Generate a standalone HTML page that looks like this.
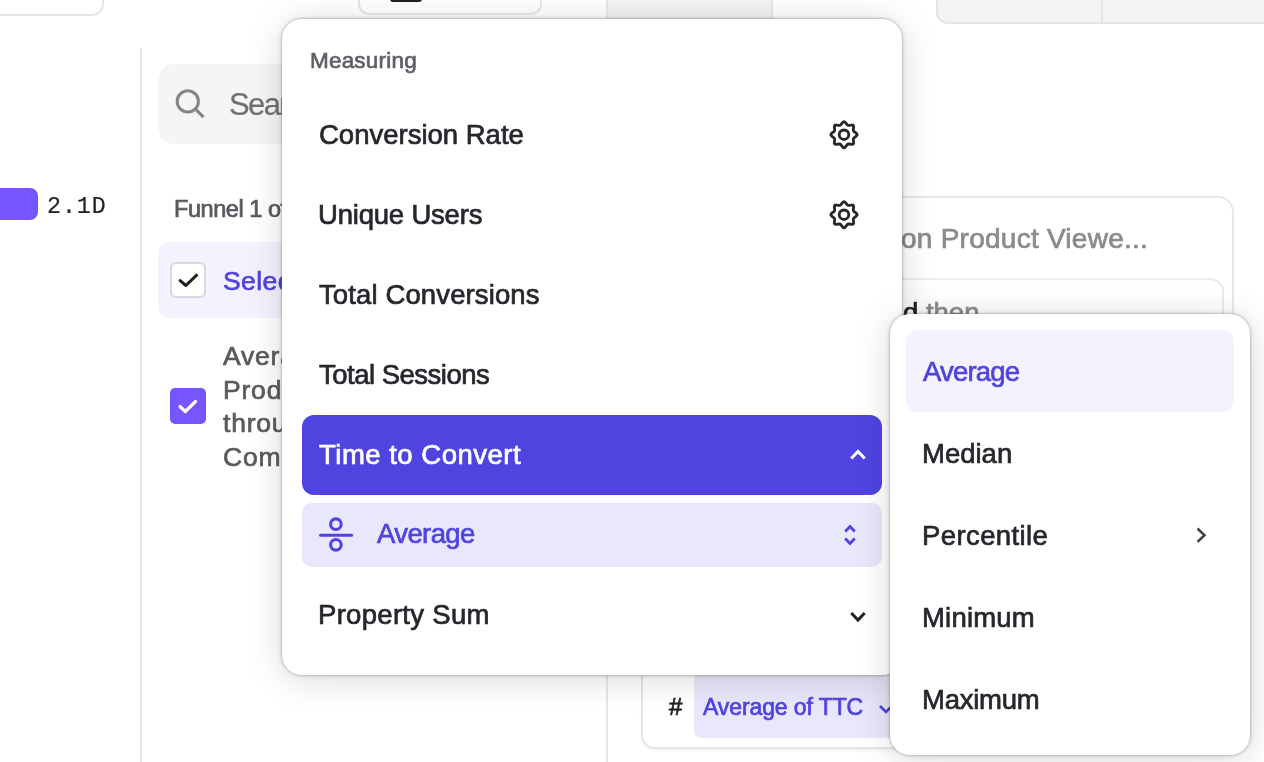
<!DOCTYPE html>
<html><head><meta charset="utf-8"><title>Measuring menu</title>
<style>
html,body{margin:0;padding:0;width:1264px;height:762px;overflow:hidden;background:#fff;}
body{position:relative;font-family:"Liberation Sans",sans-serif;}
.t{position:absolute;white-space:nowrap;-webkit-text-stroke:0.7px currentColor;will-change:transform;}
.b{position:absolute;box-sizing:border-box;}
.menu{position:absolute;background:#fff;border-radius:20px;box-shadow:0 0 0 1px rgba(0,0,0,0.08),0 0 0 2px rgba(0,0,0,0.04),0 0 6px rgba(0,0,0,0.14),0 4px 36px rgba(0,0,0,0.15);}
</style></head><body>
<div class="b" style="left:-20px;top:-40px;width:124px;height:56px;border:2px solid #e6e6e6;border-radius:12px;background:#fff;"></div>
<div class="b" style="left:358px;top:-40px;width:184px;height:55px;border:2px solid #e6e6e6;border-radius:11px;background:#fff;"></div>
<div class="b" style="left:389.5px;top:-10px;width:32.5px;height:11.6px;background:#1f1f24;border-radius:3px;"></div>
<div class="b" style="left:606px;top:-10px;width:167px;height:50px;background:#f4f4f4;border:2px solid #e6e6e6;"></div>
<div class="b" style="left:936px;top:-40px;width:354px;height:64px;background:#f4f4f4;border:2px solid #e6e6e6;border-radius:12px;"></div>
<div class="b" style="left:1101px;top:0px;width:2px;height:23px;background:#e6e6e6;"></div>
<div class="b" style="left:140px;top:48px;width:2px;height:714px;background:#e8e8e8;"></div>
<div class="b" style="left:606px;top:0px;width:2px;height:762px;background:#e8e8e8;"></div>
<div class="b" style="left:-20px;top:188px;width:58px;height:32px;background:#7856ff;border-radius:8px;"></div>
<div class="t" style="left:46.80px;top:196.08px;font-size:23.3px;line-height:23.3px;color:#222;font-weight:400;font-family:'Liberation Mono', monospace;letter-spacing:0.9px;-webkit-text-stroke:0.2px;">2.1D</div>
<div class="b" style="left:158px;top:64px;width:442px;height:80px;background:#f5f5f5;border-radius:16px;"></div>
<svg class="b" style="left:172px;top:86px" width="40" height="40" viewBox="0 0 40 40">
<circle cx="15.8" cy="15.4" r="10.6" fill="none" stroke="#858585" stroke-width="3"/>
<line x1="23.5" y1="23.2" x2="31.5" y2="31.2" stroke="#858585" stroke-width="3.2" stroke-linecap="butt"/></svg>
<div class="t" style="left:229.00px;top:88.66px;font-size:31px;line-height:31px;color:#707070;font-weight:400;font-family:'Liberation Sans', sans-serif;letter-spacing:-1.6px;-webkit-text-stroke:0.2px #707070;">Search</div>
<div class="t" style="left:174.20px;top:197.71px;font-size:23.5px;line-height:23.5px;color:#58585e;font-weight:400;font-family:'Liberation Sans', sans-serif;letter-spacing:-0.45px;">Funnel 1 of 2</div>
<div class="b" style="left:158px;top:242px;width:442px;height:76px;background:#f3f2fe;border-radius:12px;"></div>
<div class="b" style="left:170px;top:262px;width:36px;height:36px;background:#fff;border:2px solid #d9d9de;border-radius:6px;box-sizing:border-box;"></div>
<svg class="b" style="left:170.5px;top:262.5px" width="35" height="35" viewBox="0 0 35 35">
<polyline points="9.2,17.6 14.9,22.5 25.6,12.2" fill="none" stroke="#222" stroke-width="3.1" stroke-linecap="round" stroke-linejoin="round"/></svg>
<div class="t" style="left:222.50px;top:267.57px;font-size:26.5px;line-height:26.5px;color:#4f44e0;font-weight:400;font-family:'Liberation Sans', sans-serif;letter-spacing:0.4px;">Select all</div>
<div class="b" style="left:170px;top:388px;width:36px;height:36px;background:#7856ff;border-radius:5px;"></div>
<svg class="b" style="left:170px;top:388px" width="36" height="36" viewBox="0 0 36 36">
<polyline points="10,18.5 15.3,23.5 25.5,13.5" fill="none" stroke="#fff" stroke-width="3.2" stroke-linecap="round" stroke-linejoin="round"/></svg>
<div class="t" style="left:222.50px;top:343.07px;font-size:26.5px;line-height:26.5px;color:#5a5a5f;font-weight:400;font-family:'Liberation Sans', sans-serif;letter-spacing:0.8px;">Average time to convert on</div>
<div class="t" style="left:222.50px;top:376.77px;font-size:26.5px;line-height:26.5px;color:#5a5a5f;font-weight:400;font-family:'Liberation Sans', sans-serif;letter-spacing:0.8px;">Product Viewed then</div>
<div class="t" style="left:222.50px;top:410.47px;font-size:26.5px;line-height:26.5px;color:#5a5a5f;font-weight:400;font-family:'Liberation Sans', sans-serif;letter-spacing:0.8px;">through Checkout</div>
<div class="t" style="left:222.50px;top:444.17px;font-size:26.5px;line-height:26.5px;color:#5a5a5f;font-weight:400;font-family:'Liberation Sans', sans-serif;letter-spacing:0.8px;">Completed</div>
<div class="b" style="left:620px;top:196px;width:614px;height:464px;border:2px solid #e8e8e8;border-radius:16px;background:#fff;"></div>
<div class="t" style="left:901.00px;top:224.50px;font-size:28px;line-height:28px;color:#8b8b8f;font-weight:400;font-family:'Liberation Sans', sans-serif;letter-spacing:0.25px;">on Product Viewe...</div>
<div class="b" style="left:640px;top:278px;width:584px;height:362px;border:2px solid #ececec;border-radius:14px;background:#fff;"></div>
<div class="t" style="left:903.20px;top:299.02px;font-size:27.5px;line-height:27.5px;color:#8b8b8f;font-weight:400;font-family:'Liberation Sans', sans-serif;letter-spacing:0px;"><span style="color:#222">d</span> then</div>
<div class="b" style="left:641px;top:560px;width:359px;height:189px;border:2px solid #e6e6e6;border-radius:14px;background:#fff;box-shadow:0 2px 3px rgba(0,0,0,0.05);"></div>
<div class="t" style="left:669.00px;top:694.88px;font-size:24px;line-height:24px;color:#222;font-weight:400;font-family:'Liberation Sans', sans-serif;letter-spacing:0px;">#</div>
<div class="b" style="left:694px;top:600px;width:306px;height:138px;background:#e9e7fb;border-radius:7px;"></div>
<div class="t" style="left:703.00px;top:696.23px;font-size:23px;line-height:23px;color:#4f44e0;font-weight:400;font-family:'Liberation Sans', sans-serif;letter-spacing:-0.1px;">Average of TTC</div>
<svg class="b" style="left:877px;top:701.2px" width="20" height="16" viewBox="0 0 20 16">
<polyline points="3,5 9,11 15,5" fill="none" stroke="#4f44e0" stroke-width="2.6"/></svg>
<div class="menu" style="left:282px;top:18.5px;width:620px;height:656.5px;"></div>
<div class="t" style="left:310.00px;top:50.15px;font-size:22.5px;line-height:22.5px;color:#5f5f66;font-weight:400;font-family:'Liberation Sans', sans-serif;letter-spacing:0.2px;">Measuring</div>
<div class="t" style="left:319.00px;top:120.72px;font-size:27.5px;line-height:27.5px;color:#26262c;font-weight:400;font-family:'Liberation Sans', sans-serif;letter-spacing:0px;">Conversion Rate</div>
<div class="t" style="left:318.00px;top:200.72px;font-size:27.5px;line-height:27.5px;color:#26262c;font-weight:400;font-family:'Liberation Sans', sans-serif;letter-spacing:-0.2px;">Unique Users</div>
<div class="t" style="left:319.00px;top:280.72px;font-size:27.5px;line-height:27.5px;color:#26262c;font-weight:400;font-family:'Liberation Sans', sans-serif;letter-spacing:0.12px;">Total Conversions</div>
<div class="t" style="left:319.00px;top:360.72px;font-size:27.5px;line-height:27.5px;color:#26262c;font-weight:400;font-family:'Liberation Sans', sans-serif;letter-spacing:-0.5px;">Total Sessions</div>
<svg class="b" style="left:0;top:0" width="1264" height="762"><path d="M842.54,122.51 Q844.00,120.60 845.46,122.51 L847.06,124.60 Q847.79,125.55 848.98,125.40 L851.59,125.05 Q853.97,124.73 853.65,127.11 L853.30,129.72 Q853.15,130.91 854.10,131.64 L856.19,133.24 Q858.10,134.70 856.19,136.16 L854.10,137.76 Q853.15,138.49 853.30,139.68 L853.65,142.29 Q853.97,144.67 851.59,144.35 L848.98,144.00 Q847.79,143.85 847.06,144.80 L845.46,146.89 Q844.00,148.80 842.54,146.89 L840.94,144.80 Q840.21,143.85 839.02,144.00 L836.41,144.35 Q834.03,144.67 834.35,142.29 L834.70,139.68 Q834.85,138.49 833.90,137.76 L831.81,136.16 Q829.90,134.70 831.81,133.24 L833.90,131.64 Q834.85,130.91 834.70,129.72 L834.35,127.11 Q834.03,124.73 836.41,125.05 L839.02,125.40 Q840.21,125.55 840.94,124.60 Z" fill="none" stroke="#26262c" stroke-width="2.85" stroke-linejoin="round"/><circle cx="844" cy="134.7" r="4.75" fill="none" stroke="#26262c" stroke-width="2.85"/></svg>
<svg class="b" style="left:0;top:0" width="1264" height="762"><path d="M842.54,202.51 Q844.00,200.60 845.46,202.51 L847.06,204.60 Q847.79,205.55 848.98,205.40 L851.59,205.05 Q853.97,204.73 853.65,207.11 L853.30,209.72 Q853.15,210.91 854.10,211.64 L856.19,213.24 Q858.10,214.70 856.19,216.16 L854.10,217.76 Q853.15,218.49 853.30,219.68 L853.65,222.29 Q853.97,224.67 851.59,224.35 L848.98,224.00 Q847.79,223.85 847.06,224.80 L845.46,226.89 Q844.00,228.80 842.54,226.89 L840.94,224.80 Q840.21,223.85 839.02,224.00 L836.41,224.35 Q834.03,224.67 834.35,222.29 L834.70,219.68 Q834.85,218.49 833.90,217.76 L831.81,216.16 Q829.90,214.70 831.81,213.24 L833.90,211.64 Q834.85,210.91 834.70,209.72 L834.35,207.11 Q834.03,204.73 836.41,205.05 L839.02,205.40 Q840.21,205.55 840.94,204.60 Z" fill="none" stroke="#26262c" stroke-width="2.85" stroke-linejoin="round"/><circle cx="844" cy="214.7" r="4.75" fill="none" stroke="#26262c" stroke-width="2.85"/></svg>
<div class="b" style="left:302px;top:415px;width:580px;height:80px;background:#4f44e0;border-radius:12px;"></div>
<div class="t" style="left:319.00px;top:440.72px;font-size:27.5px;line-height:27.5px;color:#fff;font-weight:400;font-family:'Liberation Sans', sans-serif;letter-spacing:0.5px;">Time to Convert</div>
<svg class="b" style="left:846px;top:444px" width="24" height="20" viewBox="0 0 24 20">
<polyline points="5.3,14.5 12,7.5 18.7,14.5" fill="none" stroke="#fff" stroke-width="3"/></svg>
<div class="b" style="left:302px;top:503px;width:580px;height:64px;background:#e9e7fb;border-radius:10px;"></div>
<svg class="b" style="left:316px;top:515px" width="40" height="40" viewBox="0 0 40 40">
<line x1="4.6" y1="20.2" x2="35.6" y2="20.2" stroke="#4f44e0" stroke-width="3" stroke-linecap="round"/>
<circle cx="19.9" cy="9.2" r="5.3" fill="none" stroke="#4f44e0" stroke-width="3.1"/>
<circle cx="19.9" cy="29.8" r="5.3" fill="none" stroke="#4f44e0" stroke-width="3.1"/></svg>
<div class="t" style="left:377.00px;top:520.42px;font-size:27.5px;line-height:27.5px;color:#4f44e0;font-weight:400;font-family:'Liberation Sans', sans-serif;letter-spacing:-0.6px;">Average</div>
<svg class="b" style="left:840px;top:520px" width="20" height="30" viewBox="0 0 20 30">
<polyline points="5.2,11.5 10,6.5 14.8,11.5" fill="none" stroke="#4f44e0" stroke-width="2.8"/>
<polyline points="5.2,18.5 10,23.5 14.8,18.5" fill="none" stroke="#4f44e0" stroke-width="2.8"/></svg>
<div class="t" style="left:318.00px;top:600.52px;font-size:27.5px;line-height:27.5px;color:#26262c;font-weight:400;font-family:'Liberation Sans', sans-serif;letter-spacing:0.3px;">Property Sum</div>
<svg class="b" style="left:846px;top:604px" width="24" height="20" viewBox="0 0 24 20">
<polyline points="5.3,9 12,16 18.7,9" fill="none" stroke="#222" stroke-width="3"/></svg>
<div class="menu" style="left:890px;top:314px;width:359.8px;height:441.2px;"></div>
<div class="b" style="left:906px;top:330px;width:328px;height:81.5px;background:#f3f2fe;border-radius:12px;"></div>
<div class="t" style="left:923.00px;top:357.72px;font-size:27.5px;line-height:27.5px;color:#4f44e0;font-weight:400;font-family:'Liberation Sans', sans-serif;letter-spacing:-0.8px;">Average</div>
<div class="t" style="left:921.80px;top:439.72px;font-size:27.5px;line-height:27.5px;color:#26262c;font-weight:400;font-family:'Liberation Sans', sans-serif;letter-spacing:0px;">Median</div>
<div class="t" style="left:921.80px;top:521.72px;font-size:27.5px;line-height:27.5px;color:#26262c;font-weight:400;font-family:'Liberation Sans', sans-serif;letter-spacing:0.4px;">Percentile</div>
<div class="t" style="left:921.80px;top:603.72px;font-size:27.5px;line-height:27.5px;color:#26262c;font-weight:400;font-family:'Liberation Sans', sans-serif;letter-spacing:0.2px;">Minimum</div>
<div class="t" style="left:921.80px;top:685.72px;font-size:27.5px;line-height:27.5px;color:#26262c;font-weight:400;font-family:'Liberation Sans', sans-serif;letter-spacing:-0.25px;">Maximum</div>
<svg class="b" style="left:1191.4px;top:525px" width="20" height="20" viewBox="0 0 20 20">
<polyline points="6.5,3.5 13.5,10.2 6.5,16.9" fill="none" stroke="#444" stroke-width="2.6"/></svg>
</body></html>
